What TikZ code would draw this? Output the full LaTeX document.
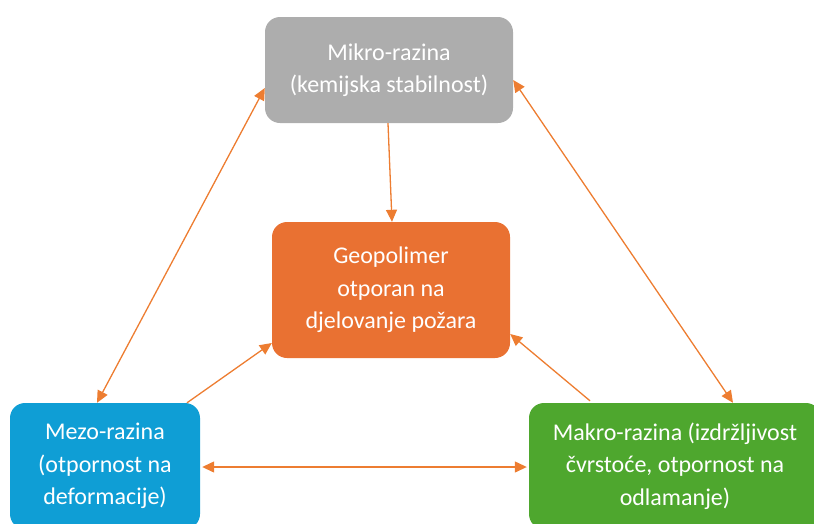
\documentclass[tikz,border=0pt]{standalone}
\usepackage{fontspec}
\setmainfont{Carlito}
\usetikzlibrary{arrows.meta,calc}
\definecolor{cgrey}{HTML}{ADADAD}
\definecolor{corange}{HTML}{E97132}
\definecolor{cblue}{HTML}{0F9ED5}
\definecolor{cgreen}{HTML}{4EA72E}
\definecolor{carrow}{HTML}{ED7D31}
\tikzset{
  box/.style={rounded corners=15pt, inner sep=0pt, align=center, text=white,
    font=\fontsize{24}{32.5}\selectfont},
  conn/.style={draw=carrow, line width=1.3pt, -{Triangle[length=12pt,width=11pt]}},
  dconn/.style={draw=carrow, line width=1.3pt, {Triangle[length=12pt,width=11pt]}-{Triangle[length=12pt,width=11pt]}}
}
\begin{document}
\begin{tikzpicture}[x=1pt,y=-1pt]
\useasboundingbox (0,0) rectangle (814,523);
\clip (0,0) rectangle (814,523);
\node[box, fill=cgrey, minimum width=248pt, minimum height=106pt] (mikro) at (389,70) {Mikro-razina\\(kemijska stabilnost)};
\node[box, fill=corange, minimum width=238pt, minimum height=136pt] (geo) at (391,290) {Geopolimer\\otporan na\\djelovanje požara};
\node[box, fill=cblue, minimum width=190pt, minimum height=126pt] (mezo) at (105,466) {Mezo-razina\\(otpornost na\\deformacije)};
\node[box, fill=cgreen, minimum width=292pt, minimum height=126pt] (makro) at (675,466) {Makro-razina (izdržljivost\\čvrstoće, otpornost na\\odlamanje)};
% connectors
\draw[conn] ([xshift=-1pt]mikro.south) -- ([xshift=1pt]geo.north);
\draw[dconn] ([yshift=-18pt]mikro.west) -- ([xshift=-8pt]mezo.north);
\draw[dconn] ([yshift=-10pt]mikro.east) -- ([xshift=58pt]makro.north);
\draw[conn] ([xshift=82pt]mezo.north) -- ([yshift=-53pt]geo.west);
\draw[conn] ([xshift=-85pt,yshift=2pt]makro.north) -- ([yshift=-44pt]geo.east);
\draw[dconn] ([xshift=2pt,yshift=-1pt]mezo.east) -- ([xshift=-2pt,yshift=-1pt]makro.west);
\end{tikzpicture}
\end{document}
